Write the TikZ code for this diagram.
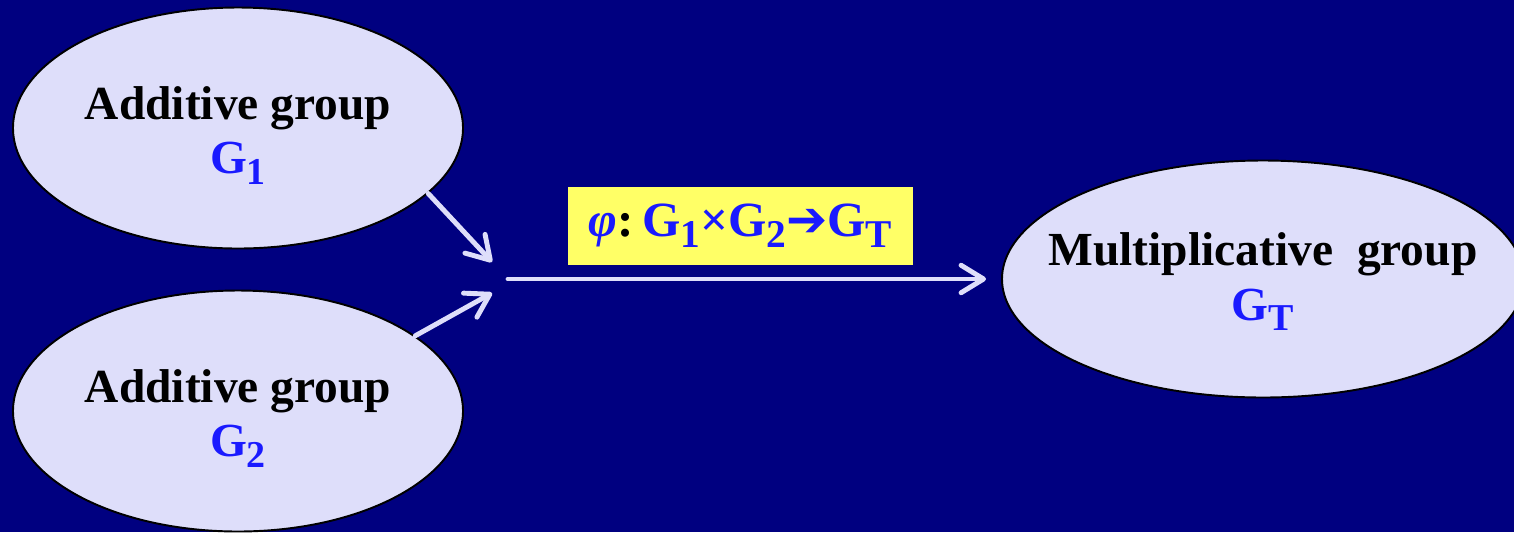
\documentclass[tikz,border=0pt]{standalone}
\usepackage{fontspec}
\setmainfont{Liberation Serif}
\newfontfamily\symfont{DejaVu Sans}
\usetikzlibrary{arrows.meta,shapes.geometric}
\definecolor{cNavy}{HTML}{000080}
\definecolor{cLav}{HTML}{DEDEFA}
\definecolor{cBlue}{HTML}{1A1AFF}
\definecolor{cYellow}{HTML}{FFFF66}
\newcommand{\gsub}[1]{\textcolor{cBlue}{G\raisebox{-0.22em}{\scalebox{0.8}{#1}}}}

\begin{document}
\begin{tikzpicture}[font=\fontsize{27}{31}\selectfont\bfseries,
  >={Straight Barb[length=4.5mm,width=5.5mm,round]},
  grpnode/.style={ellipse, draw=black, line width=1.1pt, fill=cLav, align=center, inner sep=0pt},
  link/.style={->, cLav, line width=2.8pt, line cap=round}]
  \fill[cNavy] (0,0) rectangle (30.28,-10.64);
  \useasboundingbox (0,0) rectangle (30.28,-10.64);
  % groups
  \node[grpnode, minimum width=9cm, minimum height=4.82cm] (g1) at (4.76,-2.56)
       {\rule{0pt}{27pt}Additive group\\\gsub{1}};
  \node[grpnode, minimum width=9cm, minimum height=4.82cm] (g2) at (4.76,-8.22)
       {\rule{0pt}{27pt}Additive group\\\gsub{2}};
  \node[grpnode, inner xsep=-0.9cm, minimum width=10.44cm, minimum height=4.74cm] (gt) at (25.26,-5.58)
       {\rule{0pt}{22pt}Multiplicative~~group\\\gsub{T}};
  % pairing
  \node[fill=cYellow, minimum width=6.9cm, minimum height=1.56cm, inner sep=0pt,
        font=\fontsize{28}{34}\selectfont\bfseries] (map) at (14.81,-4.52)
       {\textcolor{cBlue}{\itshape φ}:\,\gsub{1}\textcolor{cBlue}{×}\gsub{2}\textcolor{cBlue}{\symfont ➔}\gsub{T}};
  \coordinate (hub1) at (9.84,-5.24);
  \coordinate (hub2) at (9.84,-5.86);
  \coordinate (hub) at (10.16,-5.58);
  \draw[link] (g1.-19) -- (hub1);
  \draw[link] (g2.23) -- (hub2);
  \draw[link, shorten >=0.3cm] (hub) -- (gt.west);
\end{tikzpicture}
\end{document}
